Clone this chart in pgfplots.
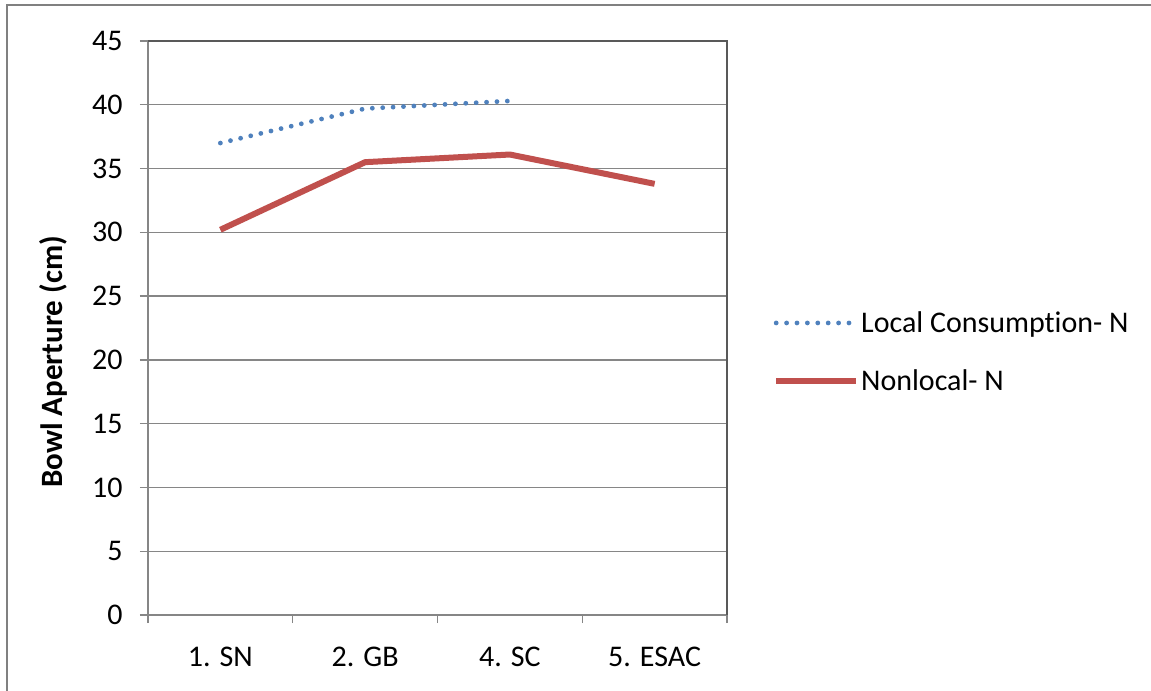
\documentclass[border=0pt]{standalone}
\usepackage{pgfplots}
\pgfplotsset{compat=1.18}
\usepackage{fontspec}
\setmainfont{Carlito}[Ligatures=NoCommon]
\definecolor{lcblue}{RGB}{79,129,189}
\definecolor{nlred}{RGB}{192,80,77}
\definecolor{gridgray}{RGB}{134,134,134}
\definecolor{framegray}{RGB}{128,128,128}
\begin{document}
\begin{tikzpicture}
% outer chart frame
\draw[framegray, line width=2.5bp] (7bp,-5bp) -- (7bp,686bp) -- (1160bp,686bp);
\begin{axis}[
  at={(148bp,76bp)}, anchor=south west,
  scale only axis, width=579bp, height=574bp,
  xmin=-0.5, xmax=3.5, ymin=0, ymax=45,
  xtick={-0.5,0.5,1.5,2.5,3.5}, xticklabels={},
  extra x ticks={0,1,2,3},
  extra x tick labels={1. SN,2. GB,4. SC,5. ESAC},
  extra x tick style={major tick length=0pt, grid=none},
  ytick={0,5,...,45},
  ymajorgrids, major grid style={gridgray, line width=1.3bp},
  tick style={gridgray, line width=1.3bp},
  major tick length=8bp,
  tick align=outside,
  xtick pos=bottom, ytick pos=left,
  axis line style={gridgray, line width=1.3bp},
  axis x line*=bottom, axis y line*=left,
  tick label style={font=\fontsize{30bp}{36bp}\selectfont, black},
  yticklabel style={xshift=-14bp},
  xticklabel style={yshift=-29bp},
  /pgf/number format/assume math mode=true,
  legend style={at={(1.0794,0.458)}, anchor=west, draw=none, fill=none,
    inner sep=0pt, font=\fontsize{30bp}{36bp}\selectfont, row sep=32bp,
    /tikz/every even column/.append style={column sep=4bp}},
  legend cell align=left,
  legend image code/.code={\draw[#1] (0bp,0bp) -- (80bp,0bp);},
  clip=false,
]
\addplot[lcblue, line width=4.8bp, line cap=round, dash pattern=on 0bp off 10.4bp]
  coordinates {(0,37.0) (1,39.7) (2,40.3)};
\addlegendentry{Local Consumption- N}
\addplot[nlred, line width=6bp, line join=round]
  coordinates {(0,30.2) (1,35.5) (2,36.1) (3,33.8)};
\addlegendentry{Nonlocal- N}
% plot-area border at top and right
\draw[black!65, line width=2bp] (rel axis cs:0,1) -- (rel axis cs:1,1) -- (rel axis cs:1,0);
\end{axis}
\node[rotate=90, font=\fontsize{31bp}{36bp}\selectfont\bfseries] at (53bp,329bp) {Bowl Aperture (cm)};
\pgfresetboundingbox
\path[use as bounding box] (0bp,0bp) rectangle (1151bp,691bp);
\end{tikzpicture}
\end{document}
